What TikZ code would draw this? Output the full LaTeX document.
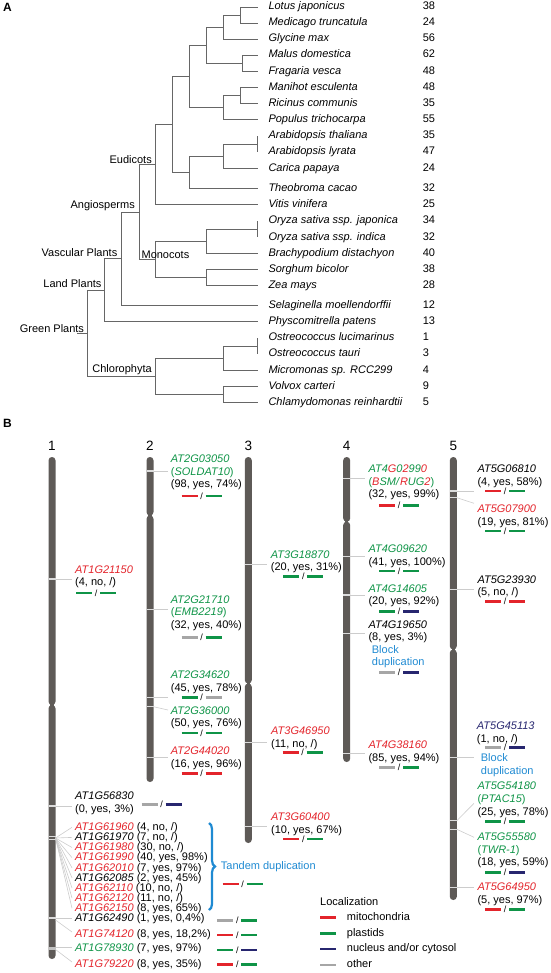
\documentclass[tikz,border=0pt]{standalone}
\usepackage{fontspec}
\setmainfont{Liberation Sans}
\usetikzlibrary{positioning,decorations.pathreplacing}

\definecolor{mito}{HTML}{E3242B}
\definecolor{plas}{HTML}{0F9447}
\definecolor{nucl}{HTML}{27266F}
\definecolor{othr}{HTML}{A6A6A6}
\definecolor{dupl}{HTML}{1F8AD2}
\definecolor{chrom}{HTML}{5E5A57}
\definecolor{tree}{HTML}{666666}
\definecolor{conn}{HTML}{CCCCCC}
\definecolor{ticcol}{HTML}{DCDCDC}

\newcommand{\gmito}[1]{\textcolor{mito}{\textit{#1}}}
\newcommand{\gplas}[1]{\textcolor{plas}{\textit{#1}}}
\newcommand{\gnucl}[1]{\textcolor{nucl}{\textit{#1}}}

\begin{document}
\begin{tikzpicture}[x=1pt,y=-1pt]
	\tikzstyle{leaf}=[inner sep=0pt, text height=8pt, text depth=2.3pt, font=\fontsize{11}{13}\selectfont\itshape]
	\tikzstyle{tally}=[inner sep=0pt, text height=8pt, text depth=2.3pt, font=\fontsize{11}{13}\selectfont]
	\tikzstyle{clade}=[inner sep=0pt, font=\fontsize{11}{13}\selectfont]
	\tikzstyle{branch}=[draw=tree, line width=0.7pt, to path={|- (\tikztotarget)}]
	\tikzstyle{panel}=[inner sep=0pt, anchor=base west, font=\fontsize{12}{14}\selectfont\bfseries]
	\tikzstyle{chr}=[fill=chrom, rounded corners=3.4pt]
	\tikzstyle{chrnum}=[inner sep=0pt, anchor=base, font=\fontsize{13.5}{16}\selectfont]
	\tikzstyle{chrtick}=[draw=ticcol, line width=1.1pt]
	\tikzstyle{connect}=[draw=conn, line width=0.6pt]
	\tikzstyle{gene}=[inner sep=0pt, anchor=north west, align=left, font=\fontsize{11}{12.7}\selectfont]
	\tikzstyle{bar}=[line width=2.7pt]
	\tikzstyle{slash}=[inner sep=0pt, font=\fontsize{9}{10}\selectfont]
	\tikzstyle{dup}=[text=dupl, inner sep=0pt, align=left, font=\fontsize{11}{12.7}\selectfont]
	\tikzstyle{tbrace}=[draw=dupl, line width=2.2pt, decorate, decoration={brace, amplitude=6pt}]

	\useasboundingbox (0,0) rectangle (550,973);

	% A: tree
	\node[panel] (pa) at (2.8,11.7) {A};
	\foreach \nm/\y/\sp/\cnt in {
		lotus/7/Lotus japonicus/38, medic/23/Medicago truncatula/24, glyc/39/Glycine max/56,
		malus/55/Malus domestica/62, frag/71.3/Fragaria vesca/48, mani/87.7/Manihot esculenta/48,
		ricin/103.7/Ricinus communis/35, popul/119.7/Populus trichocarpa/55,
		athal/136/Arabidopsis thaliana/35, alyr/152/Arabidopsis lyrata/47, caric/168.3/Carica papaya/24,
		theob/188.7/Theobroma cacao/32, vitis/204.7/Vitis vinifera/25,
		ojap/221/Oryza sativa ssp. japonica/34, oind/237.3/Oryza sativa ssp. indica/32,
		brach/253.3/Brachypodium distachyon/40, sorgh/269.3/Sorghum bicolor/38, zea/285.3/Zea mays/28,
		selag/305.7/Selaginella moellendorffii/12, physc/321.7/Physcomitrella patens/13,
		oluc/338/Ostreococcus lucimarinus/1, otau/354/Ostreococcus tauri/3,
		micro/370.3/Micromonas sp. RCC299/4, volv/386.3/Volvox carteri/9,
		chlam/402.7/Chlamydomonas reinhardtii/5}
	{
		\coordinate (t-\nm) at (257.8,\y);
		\node[leaf, right=10.5pt of t-\nm] (\nm) {\sp};
		\node[tally, right=164.8pt of t-\nm] (\nm-n) {\cnt};
	}

	\coordinate (lm)   at (240.6,15);
	\coordinate (lmg)  at (223.8,27);
	\coordinate (mf)   at (242,63.2);
	\coordinate (fab)  at (206.2,45.1);
	\coordinate (mr)   at (240.6,95.7);
	\coordinate (mrp)  at (223.8,107.7);
	\coordinate (rosa) at (189.8,76.4);
	\coordinate (ara)  at (257.8,144);
	\coordinate (arc)  at (223.8,156.2);
	\coordinate (mal)  at (189.8,172.4);
	\coordinate (ros)  at (171.9,124.4);
	\coordinate (eud)  at (155.4,164.5);
	\coordinate (ory)  at (257.8,229.2);
	\coordinate (bop)  at (206.2,241.2);
	\coordinate (sz)   at (206.2,277.3);
	\coordinate (mon)  at (155.4,259.2);
	\coordinate (ang)  at (138.9,211.9);
	\coordinate (vas)  at (121.7,258.8);
	\coordinate (land) at (104.5,290.2);
	\coordinate (ost)  at (257.8,346);
	\coordinate (mam)  at (223.8,358.2);
	\coordinate (vc)   at (223.8,394.5);
	\coordinate (chl)  at (155.4,376.3);
	\coordinate (grn)  at (87.3,333.3);
	\coordinate (root) at (77.2,333.3);

	\path
	(lm)   edge [branch] (t-lotus) edge [branch] (t-medic)
	(lmg)  edge [branch] (lm)      edge [branch] (t-glyc)
	(mf)   edge [branch] (t-malus) edge [branch] (t-frag)
	(fab)  edge [branch] (lmg)     edge [branch] (mf)
	(mr)   edge [branch] (t-mani)  edge [branch] (t-ricin)
	(mrp)  edge [branch] (mr)      edge [branch] (t-popul)
	(rosa) edge [branch] (fab)     edge [branch] (mrp)
	(ara)  edge [branch] (t-athal) edge [branch] (t-alyr)
	(arc)  edge [branch] (ara)     edge [branch] (t-caric)
	(mal)  edge [branch] (arc)     edge [branch] (t-theob)
	(ros)  edge [branch] (rosa)    edge [branch] (mal)
	(eud)  edge [branch] (ros)     edge [branch] (t-vitis)
	(ory)  edge [branch] (t-ojap)  edge [branch] (t-oind)
	(bop)  edge [branch] (ory)     edge [branch] (t-brach)
	(sz)   edge [branch] (t-sorgh) edge [branch] (t-zea)
	(mon)  edge [branch] (bop)     edge [branch] (sz)
	(ang)  edge [branch] (eud)     edge [branch] (mon)
	(vas)  edge [branch] (ang)     edge [branch] (t-selag)
	(land) edge [branch] (vas)     edge [branch] (t-physc)
	(ost)  edge [branch] (t-oluc)  edge [branch] (t-otau)
	(mam)  edge [branch] (ost)     edge [branch] (t-micro)
	(vc)   edge [branch] (t-volv)  edge [branch] (t-chlam)
	(chl)  edge [branch] (mam)     edge [branch] (vc)
	(grn)  edge [branch] (land)    edge [branch] (chl)
	(root) edge [branch] (grn)
	;

	\node[clade, anchor=base east] (eudl)  at (152,163.3)   {Eudicots};
	\node[clade, anchor=base east] (angl)  at (135,208.7)   {Angiosperms};
	\node[clade, anchor=base west] (monl)  at (141.4,258.3) {Monocots};
	\node[clade, anchor=base east] (vasl)  at (117.5,256.3) {Vascular Plants};
	\node[clade, anchor=base east] (landl) at (101.7,287.7) {Land Plants};
	\node[clade, anchor=base east] (grnl)  at (84.2,332.3)  {Green Plants};
	\node[clade, anchor=base east] (chll)  at (151.9,372.3) {Chlorophyta};

	% B: chromosomes
	\node[panel] (pb) at (2.8,427) {B};
	\foreach \nm/\x/\top/\cen/\bot in {1/52/457/705/959, 2/150/457/515.5/782, 3/248.3/457/683.5/843,
		4/346.7/457/521.7/762, 5/453.3/457/649.5/900}
	{
		\node[chrnum] (num\nm) at (\x,450.5) {\nm};
		\fill[chr] (\x-3.5,\top) rectangle (\x+3.5,\cen);
		\fill[chr] (\x-3.5,\cen) rectangle (\x+3.5,\bot);
		\fill[chrom] (\x-1.6,\cen-2.5) rectangle (\x+1.6,\cen+2.5);
	}

	\foreach \x/\y in {52/579, 52/806, 52/836.7, 52/839.3, 52/918,
		150/471, 150/609.5, 150/697.7, 150/706.7, 150/757.7,
		248.3/564.3, 248.3/742.7, 248.3/826.7,
		346.7/478.3, 346.7/556.7, 346.7/595, 346.7/633.3, 346.7/753.3,
		453.3/491, 453.3/497.7, 453.3/589.5, 453.3/757.7, 453.3/820.7, 453.3/829.3, 453.3/887.3}
		\draw[chrtick] (\x-3.5,\y) -- (\x+3.5,\y);
	\draw[chrtick, draw=othr!70, line width=3pt] (48.5,948.5) -- (55.5,948.5);

	% connectors
	\foreach \a/\b/\c/\d [count=\i] in {
		55.5/579/72/579, 55.5/806/72/806,
		55.5/838/72/827.3, 55.5/838/72/837.4, 55.5/838/72/847.5, 55.5/838/72/857.6, 55.5/838/72/867.8,
		55.5/838/72/877.9, 55.5/838/72/888, 55.5/838/72/898.1, 55.5/838/72/908.2,
		55.5/918/72/918, 55.5/920/72/932, 55.5/947.5/72/947.5, 55.5/949.5/72/962,
		153.5/471/168/471, 153.5/609.5/168/609.5, 153.5/697.7/168/697.7, 153.5/706.7/168/710, 153.5/757.7/168/757.7,
		251.8/564.3/267/564.3, 251.8/742.7/267/742.7, 251.8/826.7/267/826.7,
		350.2/478.3/365/478.3, 350.2/556.7/365/556.7, 350.2/595/365/595, 350.2/633.3/365/633.3, 350.2/753.3/365/753.3,
		456.8/491/474/491, 456.8/497.7/474/503.3, 456.8/589.5/474/589.5, 456.8/757.7/474/757.7,
		456.8/820.7/474/803.3, 456.8/829.3/474/837.3, 456.8/887.3/474/887.3}
	{
		\coordinate (ka\i) at (\a,\b);
		\coordinate (kb\i) at (\c,\d);
		\path (ka\i) edge [connect] (kb\i);
	}

	% genes
	\node[gene] (AT1G21150) at (75,564.1) {\strut\gmito{AT1G21150}\\(4, no, /)};
	\node[gene] (AT1G56830) at (75,790.8) {\strut\textit{AT1G56830}\\(0, yes, 3\%)};
	\foreach \g/\d/\c/\y in {
		AT1G61960/{(4, no, /)}/mito/827.3, AT1G61970/{(7, no, /)}/black/837.4,
		AT1G61980/{(30, no, /)}/mito/847.5, AT1G61990/{(40, yes, 98\%)}/mito/857.6,
		AT1G62010/{(7, yes, 97\%)}/mito/867.8, AT1G62085/{(2, yes, 45\%)}/black/877.9,
		AT1G62110/{(10, no, /)}/mito/888, AT1G62120/{(11, no, /)}/mito/898.1,
		AT1G62150/{(8, yes, 65\%)}/mito/908.2, AT1G62490/{(1, yes, 0,4\%)}/black/918.3,
		AT1G74120/{(8, yes, 18,2\%)}/mito/934, AT1G78930/{(7, yes, 97\%)}/plas/948.3,
		AT1G79220/{(8, yes, 35\%)}/mito/964}
		\node[gene] (\g) at (75,\y-5.9) {\strut\textcolor{\c}{\textit{\g}} \d};
	\draw[tbrace] (209,823) -- (209,910);
	\node[dup, anchor=west] (tandem) at (220.7,866.7) {Tandem duplication};

	\node[gene] (AT2G03050) at (170.7,453.4) {\strut\gplas{AT2G03050}\\\textcolor{plas}{(\textit{SOLDAT10})}\\(98, yes, 74\%)};
	\node[gene] (AT2G21710) at (170.7,594.1) {\strut\gplas{AT2G21710}\\\textcolor{plas}{(\textit{EMB2219})}\\(32, yes, 40\%)};
	\node[gene] (AT2G34620) at (170.7,669.8) {\strut\gplas{AT2G34620}\\(45, yes, 78\%)};
	\node[gene] (AT2G36000) at (170.7,705.1) {\strut\gplas{AT2G36000}\\(50, yes, 76\%)};
	\node[gene] (AT2G44020) at (170.7,745.8) {\strut\gmito{AT2G44020}\\(16, yes, 96\%)};

	\node[gene] (AT3G18870) at (270.7,549.1) {\strut\gplas{AT3G18870}\\(20, yes, 31\%)};
	\node[gene] (AT3G46950) at (271,725.8)   {\strut\gmito{AT3G46950}\\(11, no, /)};
	\node[gene] (AT3G60400) at (271,811.4)   {\strut\gmito{AT3G60400}\\(10, yes, 67\%)};

	\node[gene] (AT4G02990) at (368.3,463.4) {\strut\gplas{AT4}\gmito{G}\gplas{0}\gmito{2}\gplas{99}\gmito{0}\\
		\textcolor{plas}{(}\gmito{B}\gplas{SM/}\gmito{R}\gplas{UG}\gmito{2}\textcolor{plas}{)}\\(32, yes, 99\%)};
	\node[gene] (AT4G09620) at (368.3,543.4) {\strut\gplas{AT4G09620}\\(41, yes, 100\%)};
	\node[gene] (AT4G14605) at (368.3,583.1) {\strut\gplas{AT4G14605}\\(20, yes, 92\%)};
	\node[gene] (AT4G19650) at (368.3,619.1) {\strut\textit{AT4G19650}\\(8, yes, 3\%)};
	\node[dup, anchor=north west] (block4) at (371.7,644.1) {\strut Block\\duplication};
	\node[gene] (AT4G38160) at (368.3,739.8) {\strut\gmito{AT4G38160}\\(85, yes, 94\%)};

	\node[gene] (AT5G06810) at (477.3,463.4) {\strut\textit{AT5G06810}\\(4, yes, 58\%)};
	\node[gene] (AT5G07900) at (477.3,503.4) {\strut\gmito{AT5G07900}\\(19, yes, 81\%)};
	\node[gene] (AT5G23930) at (477.3,574.1) {\strut\textit{AT5G23930}\\(5, no, /)};
	\node[gene] (AT5G45113) at (476.7,720.8) {\strut\gnucl{AT5G45113}\\(1, no, /)};
	\node[dup, anchor=north west] (block5) at (480.7,752.4) {\strut Block\\duplication};
	\node[gene] (AT5G54180) at (477.3,780.8) {\strut\gplas{AT5G54180}\\\textcolor{plas}{(\textit{PTAC15})}\\(25, yes, 78\%)};
	\node[gene] (AT5G55580) at (477.3,831.4) {\strut\gplas{AT5G55580}\\\textcolor{plas}{(\textit{TWR-1})}\\(18, yes, 59\%)};
	\node[gene] (AT5G64950) at (477.3,881.4) {\strut\gmito{AT5G64950}\\(5, yes, 97\%)};

	% localization bars
	\foreach \x/\y/\a/\b [count=\i] in {
		76/593/plas/plas, 141.7/804.3/othr/nucl, 222.7/884/mito/plas,
		217.3/920.7/othr/plas, 217.3/935/mito/plas, 217.3/950/plas/nucl, 217.3/964.7/mito/plas,
		181.7/496/mito/plas, 181.7/637.3/othr/plas, 181.7/697.7/plas/othr, 181.7/733/plas/plas, 181.7/773.3/mito/mito,
		283.3/576.7/plas/plas, 282.7/752.7/mito/plas, 283.3/839/mito/plas,
		379/505.7/mito/plas, 379/571/plas/plas, 379/611.7/plas/nucl, 379/672.7/othr/nucl, 379/767.7/othr/plas,
		485/491/mito/plas, 485/531/plas/plas, 485/601.7/mito/mito, 485/747.7/othr/nucl,
		485/821.7/plas/plas, 485/872.3/plas/nucl, 485/909.3/mito/plas}
	{
		\draw[bar, draw=\a] (\x,\y) -- ++(16,0);
		\node[slash] (sl\i) at (\x+20,\y) {/};
		\draw[bar, draw=\b] (\x+24,\y) -- ++(16,0);
	}

	% legend
	\node[clade, anchor=base west] (loc) at (320,905.7) {Localization};
	\foreach \c/\t/\y [count=\i] in {mito/mitochondria/917.3, plas/plastids/933.3,
		nucl/{nucleus and/or cytosol}/949, othr/other/965}
	{
		\draw[bar, draw=\c] (320,\y) -- (336,\y);
		\node[tally, anchor=west] (leg\i) at (346.7,\y) {\t};
	}
\end{tikzpicture}
\end{document}
